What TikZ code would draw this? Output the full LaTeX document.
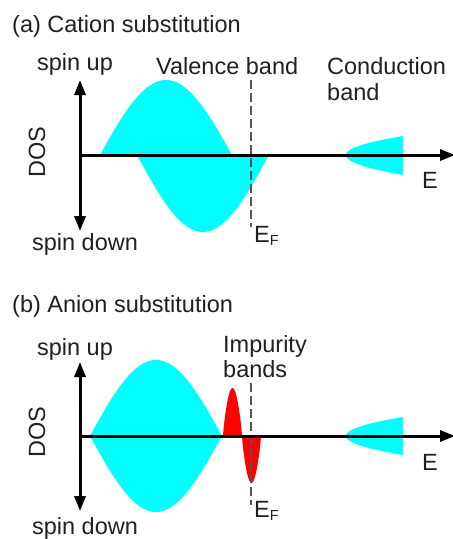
\documentclass[tikz,border=0pt]{standalone}
\usepackage{fontspec}
\setmainfont{Liberation Sans}
\usetikzlibrary{arrows.meta}
\definecolor{bandcyan}{RGB}{0,255,255}
\definecolor{bandred}{RGB}{255,0,0}
\definecolor{txt}{RGB}{35,31,32}
\definecolor{fermi}{RGB}{85,85,85}
\newcommand{\EF}{E{\fontsize{14.5}{14.5}\selectfont\raisebox{-3pt}{F}}}
\begin{document}
\begin{tikzpicture}[x=1pt,y=-1pt,
  lbl/.style={inner sep=0pt, text=txt, font=\fontsize{23.5}{26}\selectfont},
  axisline/.style={line width=3pt, black},
  fermiline/.style={fermi, line width=1.5pt, dash pattern=on 9pt off 4pt},
  headtip/.style={-{Triangle[length=15pt,width=11pt]}},
  bothtips/.style={{Triangle[length=15pt,width=11pt]}-{Triangle[length=15pt,width=11pt]}}]
\useasboundingbox (0,0) rectangle (453,539);

% ---------------- panel (a) ----------------
\node[lbl, anchor=base west] (ta) at (12,32) {(a) Cation substitution};
% bands
\fill[bandcyan] plot[domain=0:1, samples=60] ({100+132*\x},{155-75*sin(180*\x)}) -- cycle;
\fill[bandcyan] plot[domain=0:1, samples=60] ({137+132*\x},{155+77*sin(180*\x)}) -- cycle;
\fill[bandcyan] plot[domain=1:0, samples=30] ({346+57*\x*\x},{155-19*\x})
   -- plot[domain=0:1, samples=30] ({346+57*\x*\x},{155+20*\x}) -- cycle;
% Fermi level
\coordinate (efta) at (251,80);
\coordinate (efba) at (251,227);
\draw[fermiline] (efta) -- (efba);
% axes
\coordinate (oa) at (80,155);
\coordinate (topa) at (80,80);
\coordinate (bota) at (80,231);
\coordinate (enda) at (455,155);
\draw[axisline, bothtips] (bota) -- (topa);
\draw[axisline, headtip] (oa) -- (enda);
% labels
\node[lbl, anchor=base] (upa) at (75,70) {spin up};
\node[lbl, anchor=base] (downa) at (85,250) {spin down};
\node[lbl, rotate=90] (dosa) at (37,152) {DOS};
\node[lbl, anchor=base west] (vba) at (156,74) {Valence band};
\node[lbl, anchor=base west] (cba) at (327,74) {Conduction};
\node[lbl, anchor=base west] (cbb) at (327,100) {band};
\node[lbl, anchor=base west] (ea) at (422,188) {E};
\node[lbl, anchor=base west] (efla) at (254,242) {\EF};

% ---------------- panel (b) ----------------
\node[lbl, anchor=base west] (tb) at (12,312) {(b) Anion substitution};
\fill[bandcyan] plot[domain=0:1, samples=60] ({90+132*\x},{436-76*sin(180*\x)}) -- cycle;
\fill[bandcyan] plot[domain=0:1, samples=60] ({90+132*\x},{436+76*sin(180*\x)}) -- cycle;
\fill[bandred] (223,436) -- plot[domain=0.005:0.995, samples=40] ({223+19*\x},{436-48*sin(180*\x)^0.8}) -- (242,436) -- cycle;
\fill[bandred] (242,436) -- plot[domain=0.005:0.995, samples=40] ({242+19*\x},{436+47*sin(180*\x)^0.8}) -- (261,436) -- cycle;
\fill[bandcyan] plot[domain=1:0, samples=30] ({346+57*\x*\x},{436-19*\x})
   -- plot[domain=0:1, samples=30] ({346+57*\x*\x},{436+19*\x}) -- cycle;
\coordinate (eftb) at (251,383);
\coordinate (efbb) at (251,505);
\draw[fermiline] (eftb) -- (efbb);
\coordinate (ob) at (80,436);
\coordinate (topb) at (80,362);
\coordinate (botb) at (80,511);
\coordinate (endb) at (455,436);
\draw[axisline, bothtips] (botb) -- (topb);
\draw[axisline, headtip] (ob) -- (endb);
\node[lbl, anchor=base] (upb) at (75,355) {spin up};
\node[lbl, anchor=base] (downb) at (85,534) {spin down};
\node[lbl, rotate=90] (dosb) at (37,432) {DOS};
\node[lbl, anchor=base west] (iba) at (223,352) {Impurity};
\node[lbl, anchor=base west] (ibb) at (223,377) {bands};
\node[lbl, anchor=base west] (eb) at (422,470) {E};
\node[lbl, anchor=base west] (eflb) at (254,517) {\EF};
\end{tikzpicture}
\end{document}
